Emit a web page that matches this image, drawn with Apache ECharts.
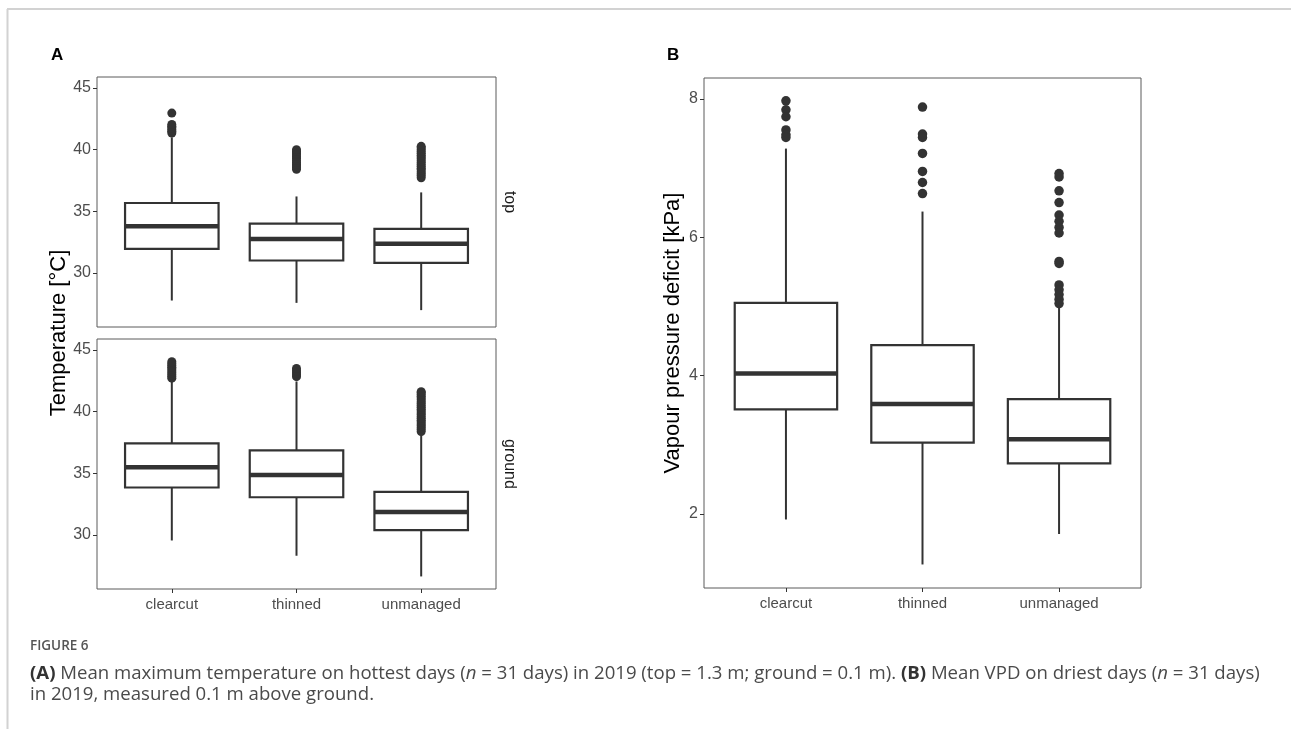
<!DOCTYPE html>
<html>
<head>
<meta charset="utf-8">
<script src="https://cdn.jsdelivr.net/npm/echarts@6/dist/echarts.min.js"></script>
<style>
html,body{margin:0;padding:0;background:#fff;}
#chart{width:1291px;height:729px;}
</style>
</head>
<body>
<div id="chart"></div>
<script>
// ---------- data ----------
const categories = ['clearcut', 'thinned', 'unmanaged'];

// box stats: [lower whisker, Q1, median, Q3, upper whisker]
const tempTopBox = [
  [27.75, 31.94, 33.78, 35.67, 41.0],
  [27.56, 31.0, 32.75, 34.0, 36.2],
  [26.97, 30.81, 32.37, 33.56, 36.53]
];
const tempTopOutliers = [
  [41.35, 41.5, 41.62, 41.78, 41.9, 42.05, 42.97],
  [38.4, 38.55, 38.7, 38.82, 38.98, 39.12, 39.3, 39.45, 39.6, 39.72, 39.88, 40.0],
  [37.72, 37.9, 38.05, 38.2, 38.37, 38.5, 38.66, 38.8, 38.95, 39.1, 39.26, 39.4, 39.55, 39.7, 39.86, 40.0, 40.15, 40.27]
];
const tempGroundBox = [
  [29.54, 33.84, 35.49, 37.43, 42.43],
  [28.3, 33.05, 34.86, 36.86, 42.45],
  [26.62, 30.38, 31.86, 33.48, 38.24]
];
const tempGroundOutliers = [
  [42.72, 42.86, 43.0, 43.15, 43.3, 43.46, 43.6, 43.75, 43.9, 44.05],
  [42.84, 43.0, 43.16, 43.32, 43.5],
  [38.38, 38.55, 38.7, 38.86, 39.0, 39.16, 39.3, 39.46, 39.6, 39.76, 39.9, 40.05, 40.2, 40.36, 40.5, 40.66, 40.8, 40.96, 41.1, 41.26, 41.4, 41.55, 41.62]
];
const vpdBox = [
  [1.92, 3.51, 4.03, 5.05, 7.28],
  [1.27, 3.03, 3.59, 4.44, 6.37],
  [1.71, 2.73, 3.08, 3.66, 5.01]
];
const vpdOutliers = [
  [7.97, 7.84, 7.74, 7.55, 7.48, 7.44],
  [7.88, 7.49, 7.44, 7.21, 6.95, 6.79, 6.63],
  [6.92, 6.87, 6.67, 6.5, 6.32, 6.23, 6.14, 6.06, 5.65, 5.62, 5.31, 5.24, 5.17, 5.1, 5.04]
];
const tempTicks = [30, 35, 40, 45];
const vpdTicks = [2, 4, 6, 8];
const facetLabels = ['top', 'ground'];
const yTitleA = 'Temperature [°C]';
const yTitleB = 'Vapour pressure deficit [kPa]';

// ---------- helpers ----------
const INK = '#333333';
const catPos = categories.map((c, i) => i + 1);
function boxData(stats) {
  return stats.map((s, i) => [catPos[i]].concat(s));
}
function outlierData(lists) {
  const out = [];
  lists.forEach((arr, i) => arr.forEach(v => out.push([catPos[i], v])));
  return out;
}
function renderBox(params, api) {
  const i = api.value(0);
  const lo = api.coord([i, api.value(1)]);
  const q1 = api.coord([i, api.value(2)]);
  const md = api.coord([i, api.value(3)]);
  const q3 = api.coord([i, api.value(4)]);
  const hi = api.coord([i, api.value(5)]);
  const half = api.size([0.75, 0])[0] / 2;
  const x = q1[0];
  return {
    type: 'group',
    children: [
      { type: 'line', shape: { x1: x, y1: q1[1], x2: x, y2: lo[1] }, style: { stroke: INK, lineWidth: 2 } },
      { type: 'line', shape: { x1: x, y1: q3[1], x2: x, y2: hi[1] }, style: { stroke: INK, lineWidth: 2 } },
      { type: 'rect', shape: { x: x - half, y: q3[1], width: half * 2, height: q1[1] - q3[1] },
        style: { fill: '#fff', stroke: INK, lineWidth: 2.2 } },
      { type: 'line', shape: { x1: x - half, y1: md[1], x2: x + half, y2: md[1] }, style: { stroke: INK, lineWidth: 4.5 } }
    ]
  };
}

const FONT = 'Liberation Sans, Arial, sans-serif';
const tickLabelStyle = { color: '#4d4d4d', fontSize: 15, fontFamily: FONT };
function xAxisFor(gridIndex, showLabels) {
  return {
    type: 'value', gridIndex, min: 0.4, max: 3.6,
    axisLine: { show: false },
    axisTick: { show: showLabels, length: 4, customValues: catPos, lineStyle: { color: INK, width: 1 } },
    axisLabel: Object.assign({ show: showLabels, margin: 8, customValues: catPos,
      formatter: v => categories[Math.round(v) - 1] || '' }, tickLabelStyle),
    splitLine: { show: false }
  };
}
function yAxisFor(gridIndex, min, max, ticks) {
  return {
    type: 'value', gridIndex, min, max,
    axisLine: { show: false },
    axisTick: { show: true, length: 4, customValues: ticks, lineStyle: { color: INK, width: 1 } },
    axisLabel: Object.assign({ customValues: ticks, margin: 6 }, tickLabelStyle, { fontSize: 16 }),
    splitLine: { show: false }
  };
}

const gridStyle = { show: true, borderColor: '#5a5a5a', borderWidth: 1, backgroundColor: '#fff', containLabel: false };

const option = {
  animation: false,
  backgroundColor: '#fff',
  grid: [
    Object.assign({ left: 97, top: 77, width: 399, height: 250 }, gridStyle),
    Object.assign({ left: 97, top: 339, width: 399, height: 250 }, gridStyle),
    Object.assign({ left: 704, top: 78, width: 437, height: 510 }, gridStyle)
  ],
  xAxis: [xAxisFor(0, false), xAxisFor(1, true), xAxisFor(2, true)],
  yAxis: [
    yAxisFor(0, 25.6, 45.9, tempTicks),
    yAxisFor(1, 25.6, 45.9, tempTicks),
    yAxisFor(2, 0.93, 8.3, vpdTicks)
  ],
  series: [
    { type: 'custom', xAxisIndex: 0, yAxisIndex: 0, renderItem: renderBox, data: boxData(tempTopBox), encode: { x: 0, y: [1, 2, 3, 4, 5] } },
    { type: 'custom', xAxisIndex: 1, yAxisIndex: 1, renderItem: renderBox, data: boxData(tempGroundBox), encode: { x: 0, y: [1, 2, 3, 4, 5] } },
    { type: 'custom', xAxisIndex: 2, yAxisIndex: 2, renderItem: renderBox, data: boxData(vpdBox), encode: { x: 0, y: [1, 2, 3, 4, 5] } },
    { type: 'scatter', xAxisIndex: 0, yAxisIndex: 0, data: outlierData(tempTopOutliers), symbolSize: 9, itemStyle: { color: INK, opacity: 1 } },
    { type: 'scatter', xAxisIndex: 1, yAxisIndex: 1, data: outlierData(tempGroundOutliers), symbolSize: 9, itemStyle: { color: INK, opacity: 1 } },
    { type: 'scatter', xAxisIndex: 2, yAxisIndex: 2, data: outlierData(vpdOutliers), symbolSize: 9.5, itemStyle: { color: INK, opacity: 1 } }
  ],
  graphic: [
    // frame
    { type: 'line', shape: { x1: 7, y1: 9, x2: 1291, y2: 9 }, style: { stroke: '#d2d2d2', lineWidth: 2 } },
    { type: 'line', shape: { x1: 7.5, y1: 9, x2: 7.5, y2: 729 }, style: { stroke: '#d2d2d2', lineWidth: 2 } },
    // panel letters
    { type: 'text', x: 51, y: 47, style: { text: 'A', fill: '#000', font: 'bold 17px ' + FONT } },
    { type: 'text', x: 667, y: 47, style: { text: 'B', fill: '#000', font: 'bold 17px ' + FONT } },
    // y titles
    { type: 'text', x: 59, y: 333, rotation: Math.PI / 2,
      style: { text: yTitleA, fill: '#000', font: '22px ' + FONT, align: 'center', verticalAlign: 'middle' } },
    { type: 'text', x: 673, y: 333, rotation: Math.PI / 2,
      style: { text: yTitleB, fill: '#000', font: '22px ' + FONT, align: 'center', verticalAlign: 'middle' } },
    // facet strips
    { type: 'text', x: 509, y: 202, rotation: -Math.PI / 2,
      style: { text: facetLabels[0], fill: '#1a1a1a', font: '16px ' + FONT, align: 'center', verticalAlign: 'middle' } },
    { type: 'text', x: 509, y: 464, rotation: -Math.PI / 2,
      style: { text: facetLabels[1], fill: '#1a1a1a', font: '16px ' + FONT, align: 'center', verticalAlign: 'middle' } },
    // caption
    { type: 'text', x: 30, y: 646, style: { text: 'FIGURE 6', fill: '#555', font: '600 13.5px Open Sans, sans-serif', verticalAlign: 'middle' } },
    { type: 'text', x: 30, y: 674,
      style: {
        text: '{b|(A)} Mean maximum temperature on hottest days ({i|n} = 31 days) in 2019 (top = 1.3 m; ground = 0.1 m). {b|(B)} Mean VPD on driest days ({i|n} = 31 days)',
        fill: '#4a4a4a', font: '18.6px Open Sans, sans-serif', verticalAlign: 'middle',
        rich: {
          b: { fontWeight: 'bold', fill: '#333', fontSize: 18.6, fontFamily: 'Open Sans, sans-serif' },
          i: { fontStyle: 'italic', fill: '#4a4a4a', fontSize: 18.6, fontFamily: 'Open Sans, sans-serif' }
        }
      } },
    { type: 'text', x: 30, y: 695,
      style: { text: 'in 2019, measured 0.1 m above ground.', fill: '#4a4a4a', font: '18.6px Open Sans, sans-serif', verticalAlign: 'middle' } }
  ]
};

const chart = echarts.init(document.getElementById('chart'), null, { renderer: 'canvas' });
chart.setOption(option);
</script>
</body>
</html>
